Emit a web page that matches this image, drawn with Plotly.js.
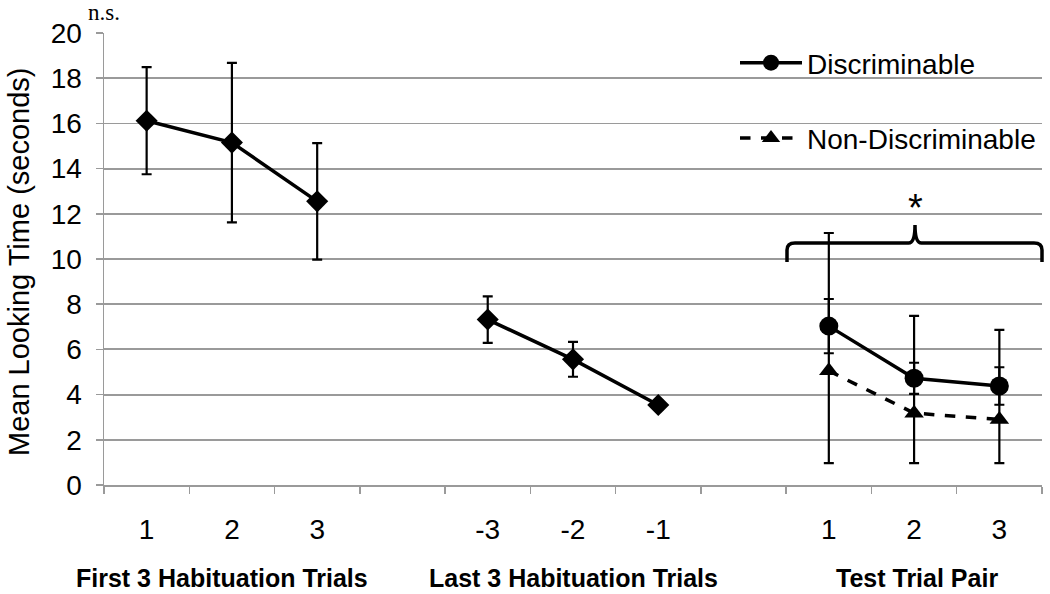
<!DOCTYPE html>
<html>
<head>
<meta charset="utf-8">
<script src="https://cdn.plot.ly/plotly-3.0.1.min.js"></script>
<style>html,body{margin:0;padding:0;background:#fff;}#chart{width:1050px;height:594px;}</style>
</head>
<body>
<div id="chart"></div>
<script>
// Categories (unique keys) and their tick labels
const categories = ['F1','F2','F3','gap1','L-3','L-2','L-1','gap2','T1','T2','T3'];
const tickLabels = ['1','2','3','','-3','-2','-1','','1','2','3'];
const groupLabels = ['First 3 Habituation Trials','Last 3 Habituation Trials','Test Trial Pair'];

// First 3 habituation trials
const firstHabX = ['F1','F2','F3'];
const firstHab = [16.12, 15.15, 12.55];
const firstHabErr = [2.37, 3.53, 2.58];

// Last 3 habituation trials
const lastHabX = ['L-3','L-2','L-1'];
const lastHab = [7.32, 5.56, 3.54];
const lastHabErr = [1.03, 0.77, 0.2];

// Test trial pairs
const testX = ['T1','T2','T3'];
const disc = [7.03, 4.72, 4.38];
const discErr = [1.2, 0.69, 0.83];
const nonDisc = [5.05, 3.18, 2.9];
const nonDiscErrPlus = [6.1, 4.3, 3.96];
const nonDiscErrMinus = [4.08, 2.21, 1.93];

const FONT = '"Liberation Sans", Arial, Helvetica, sans-serif';
const GRID = '#9a9a9a';

function errObj(plus, minus){
  const o = {type:'data', symmetric: !minus, array: plus, color:'#000', thickness:2.2, width:5};
  if (minus) o.arrayminus = minus;
  return o;
}

const traces = [
  {x:firstHabX, y:firstHab, type:'scatter', mode:'lines+markers', showlegend:false,
   line:{color:'#000', width:3.5}, marker:{symbol:'diamond', size:17, color:'#000'},
   error_y: errObj(firstHabErr)},
  {x:lastHabX, y:lastHab, type:'scatter', mode:'lines+markers', showlegend:false,
   line:{color:'#000', width:3.5}, marker:{symbol:'diamond', size:17, color:'#000'},
   error_y: errObj(lastHabErr)},
  {x:testX, y:disc, type:'scatter', mode:'lines+markers', name:'Discriminable', legendgroup:'a',
   line:{color:'#000', width:3.5}, marker:{symbol:'circle', size:19, color:'#000'},
   error_y: errObj(discErr)},
  {x:testX, y:nonDisc, type:'scatter', mode:'lines+markers', name:'Non-Discriminable', legendgroup:'b',
   line:{color:'#000', width:3.5, dash:'dash'}, marker:{symbol:'triangle-up', size:17, color:'#000'},
   error_y: errObj(nonDiscErrPlus, nonDiscErrMinus)}
];

const px = v => (v-104)/938;   // helper for annotation placement (paper coords)
const py = v => (485-v)/452;

const layout = {
  width:1050, height:594,
  margin:{l:104, r:8, t:33, b:109},
  paper_bgcolor:'#fff', plot_bgcolor:'#fff',
  font:{family:FONT, color:'#000', size:26},
  showlegend:true,
  legend:{x:px(735), y:py(38), xanchor:'left', yanchor:'top', bgcolor:'rgba(0,0,0,0)',
          font:{family:FONT, size:28, color:'#000'}, itemwidth:62, tracegroupgap:36,
          traceorder:'grouped', itemclick:false},
  xaxis:{type:'category', categoryorder:'array', categoryarray:categories,
         tickmode:'array', tickvals:categories, ticktext:tickLabels,
         tickson:'boundaries', ticks:'outside', ticklen:7, tickwidth:1.5, tickcolor:GRID,
         showline:true, linecolor:GRID, linewidth:1.5, showgrid:false, zeroline:false,
         range:[-0.5, 10.5], ticklabelstandoff:19,
         tickfont:{family:FONT, size:28, color:'#000'}},
  yaxis:{range:[0,20], dtick:2, tick0:0, ticks:'outside', ticklen:7, tickwidth:1.5, tickcolor:GRID,
         showline:true, linecolor:GRID, linewidth:1.5, showgrid:true, gridcolor:GRID, gridwidth:1.8,
         zeroline:false, ticklabelstandoff:8,
         tickfont:{family:FONT, size:28, color:'#000'}},
  shapes:[
    {type:'rect', xref:'paper', yref:'paper', x0:px(728), x1:px(1050), y0:py(192), y1:py(25),
     fillcolor:'#fff', line:{width:0}, layer:'between'},
    {type:'path', xref:'paper', yref:'paper', layer:'above', line:{color:'#000', width:3.5},
     path: (function(){
       const x0=px(787), x1=px(1042), xc=px(915), yH=py(243), yE=py(262), yP=py(225);
       const rx=px(795)-px(787), ry=py(243)-py(250);
       return 'M'+x0+','+yE+' L'+x0+','+(yH-ry)+' Q'+x0+','+yH+' '+(x0+rx)+','+yH+
              ' L'+(xc-rx*0.8)+','+yH+' Q'+xc+','+yH+' '+xc+','+yP+
              ' Q'+xc+','+yH+' '+(xc+rx*0.8)+','+yH+
              ' L'+(x1-rx)+','+yH+' Q'+x1+','+yH+' '+x1+','+(yH-ry)+' L'+x1+','+yE;
     })()}
  ],
  annotations:[
    {text:'Mean Looking Time (seconds)', xref:'paper', yref:'paper', x:px(19), y:py(262),
     xanchor:'center', yanchor:'middle', textangle:-90, showarrow:false,
     font:{family:FONT, size:29, color:'#000'}},
    {text:'n.s.', xref:'paper', yref:'paper', x:px(104), y:py(13), xanchor:'center', yanchor:'middle',
     showarrow:false, font:{family:'"Liberation Serif", "Times New Roman", serif', size:23, color:'#000'}},
    {text:'*', xref:'paper', yref:'paper', x:px(915), y:py(208), xanchor:'center', yanchor:'middle',
     showarrow:false, font:{family:FONT, size:38, color:'#000'}},
    {text:'<b>'+groupLabels[0]+'</b>', xref:'paper', yref:'paper', x:px(222), y:py(578),
     xanchor:'center', yanchor:'middle', showarrow:false, font:{family:FONT, size:25, color:'#000'}},
    {text:'<b>'+groupLabels[1]+'</b>', xref:'paper', yref:'paper', x:px(573), y:py(578),
     xanchor:'center', yanchor:'middle', showarrow:false, font:{family:FONT, size:25, color:'#000'}},
    {text:'<b>'+groupLabels[2]+'</b>', xref:'paper', yref:'paper', x:px(917), y:py(578),
     xanchor:'center', yanchor:'middle', showarrow:false, font:{family:FONT, size:25, color:'#000'}}
  ]
};

Plotly.newPlot('chart', traces, layout, {displayModeBar:false, staticPlot:true});
</script>
</body>
</html>
